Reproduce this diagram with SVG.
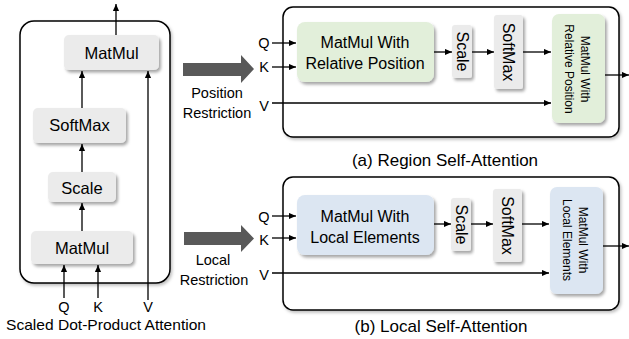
<svg xmlns="http://www.w3.org/2000/svg" width="629" height="339" viewBox="0 0 629 339">
<defs>
<filter id="sh" x="-20%" y="-20%" width="140%" height="140%">
<feDropShadow dx="2" dy="2.5" stdDeviation="1.6" flood-color="#000" flood-opacity="0.35"/>
</filter>
<filter id="psh" x="-5%" y="-5%" width="110%" height="115%">
<feDropShadow dx="1.5" dy="2" stdDeviation="1.5" flood-color="#000" flood-opacity="0.25"/>
</filter>
<marker id="ah" viewBox="0 0 8 8" refX="8" refY="4" markerWidth="7" markerHeight="7" markerUnits="userSpaceOnUse" orient="auto">
<path d="M0,0.5 L8,4 L0,7.5 Z" fill="#000"/>
</marker>
<style>
text{font-family:"Liberation Sans",Arial,sans-serif;fill:#000}
.panel{fill:#fff;stroke:#000;stroke-width:1.5;filter:url(#psh)}
.gray{fill:#ebebeb;filter:url(#sh)}
.green{fill:#e2efda;filter:url(#sh)}
.blue{fill:#dce6f2;filter:url(#sh)}
.lbl{font-size:16.5px;text-anchor:middle}
.mid{font-size:16px;text-anchor:middle}
.vs{font-size:16px;text-anchor:middle}
.vm{font-size:12px;text-anchor:middle}
.io{font-size:14.5px;text-anchor:middle}
.cap{font-size:17px;text-anchor:middle}
.ln{stroke:#000;stroke-width:1.3;fill:none;marker-end:url(#ah)}
.big{fill:#595959}
</style>
</defs>

<!-- panels -->
<rect id="panel-sdpa" class="panel" x="20" y="21" width="150" height="262" rx="14"/>
<rect id="panel-region" class="panel" x="283" y="7" width="336" height="130" rx="10"/>
<rect id="panel-local" class="panel" x="283" y="177" width="336" height="133" rx="10"/>

<!-- left nodes -->
<g id="sdpa-matmul-top"><rect class="gray" x="64" y="35" width="95" height="35" rx="5"/><text class="lbl" x="111.5" y="58.5">MatMul</text></g>
<g id="sdpa-softmax"><rect class="gray" x="33" y="108" width="93" height="35" rx="5"/><text class="lbl" x="79.5" y="131">SoftMax</text></g>
<g id="sdpa-scale"><rect class="gray" x="48" y="172" width="68" height="30" rx="5"/><text class="lbl" x="82" y="193.5">Scale</text></g>
<g id="sdpa-matmul-bottom"><rect class="gray" x="31" y="231" width="102" height="33" rx="5"/><text class="lbl" x="82" y="253.5">MatMul</text></g>

<!-- region nodes -->
<g id="region-matmul"><rect class="green" x="297" y="22" width="137" height="60" rx="8"/><text class="mid" x="365" y="48">MatMul With</text><text class="mid" x="365" y="69">Relative Position</text></g>
<g id="region-scale"><rect class="gray" x="452" y="25" width="20" height="53" rx="3"/><text class="vs" transform="translate(462,51.5) rotate(90)" x="0" y="5.5">Scale</text></g>
<g id="region-softmax"><rect class="gray" x="494" y="15" width="29" height="74" rx="3"/><text class="vs" transform="translate(508.5,52) rotate(90)" x="0" y="5.5">SoftMax</text></g>
<g id="region-matmul2"><rect class="green" x="552" y="14" width="53" height="109" rx="7"/><g transform="translate(578,69) rotate(90)"><text class="vm" x="0" y="-3">MatMul With</text><text class="vm" x="0" y="13.5">Relative Position</text></g></g>

<!-- local nodes -->
<g id="local-matmul"><rect class="blue" x="297" y="195" width="137" height="60" rx="8"/><text class="mid" x="365" y="222">MatMul With</text><text class="mid" x="365" y="243">Local Elements</text></g>
<g id="local-scale"><rect class="gray" x="451" y="198" width="20" height="53" rx="3"/><text class="vs" transform="translate(461,224.5) rotate(90)" x="0" y="5.5">Scale</text></g>
<g id="local-softmax"><rect class="gray" x="493" y="189" width="29" height="73" rx="3"/><text class="vs" transform="translate(507.5,225.5) rotate(90)" x="0" y="5.5">SoftMax</text></g>
<g id="local-matmul2"><rect class="blue" x="550" y="187" width="53" height="107" rx="7"/><g transform="translate(576,240) rotate(90)"><text class="vm" x="0" y="-3">MatMul With</text><text class="vm" x="0" y="13">Local Elements</text></g></g>

<!-- big arrows -->
<g id="arrow-position">
<polygon class="big" points="183,63 241,63 241,55 254,69 241,83 241,76 183,76"/>
<text class="io" x="217" y="98">Position</text>
<text class="io" x="217" y="118">Restriction</text>
</g>
<g id="arrow-local">
<polygon class="big" points="184,232 241,232 241,225 254,238.5 241,252 241,245 184,245"/>
<text class="io" x="213" y="265">Local</text>
<text class="io" x="214" y="285">Restriction</text>
</g>

<!-- labels -->
<g id="labels">
<text class="io" x="64" y="312">Q</text>
<text class="io" x="98" y="312">K</text>
<text class="io" x="148" y="312">V</text>
<text class="io" x="264" y="48">Q</text>
<text class="io" x="264" y="72">K</text>
<text class="io" x="264" y="111">V</text>
<text class="io" x="264" y="222">Q</text>
<text class="io" x="264" y="245">K</text>
<text class="io" x="264" y="280">V</text>
<text class="cap" x="106" y="330" style="font-size:15px" textLength="200" lengthAdjust="spacingAndGlyphs">Scaled Dot-Product Attention</text>
<text class="cap" x="445" y="166">(a) Region Self-Attention</text>
<text class="cap" x="441" y="332">(b) Local Self-Attention</text>
</g>

<!-- connectors -->
<g id="connectors">
<line class="ln" x1="116" y1="35" x2="116" y2="4"/>
<line class="ln" x1="82" y1="108" x2="82" y2="71"/>
<line class="ln" x1="82" y1="172" x2="82" y2="144"/>
<line class="ln" x1="82" y1="231" x2="82" y2="203"/>
<line class="ln" x1="64" y1="298" x2="64" y2="265"/>
<line class="ln" x1="98" y1="298" x2="98" y2="265"/>
<line class="ln" x1="148" y1="300" x2="148" y2="71"/>

<line class="ln" x1="272" y1="43" x2="296" y2="43"/>
<line class="ln" x1="272" y1="67" x2="296" y2="67"/>
<line class="ln" x1="272" y1="103" x2="551" y2="103"/>
<line class="ln" x1="434" y1="52" x2="452" y2="52"/>
<line class="ln" x1="472" y1="52" x2="494" y2="52"/>
<line class="ln" x1="523" y1="52" x2="551" y2="52"/>
<line class="ln" x1="605" y1="75" x2="629" y2="75"/>

<line class="ln" x1="272" y1="216" x2="296" y2="216"/>
<line class="ln" x1="272" y1="238" x2="296" y2="238"/>
<line class="ln" x1="272" y1="273" x2="549" y2="273"/>
<line class="ln" x1="434" y1="224" x2="451" y2="224"/>
<line class="ln" x1="471" y1="224" x2="493" y2="224"/>
<line class="ln" x1="522" y1="224" x2="549" y2="224"/>
<line class="ln" x1="603" y1="246" x2="629" y2="246"/>
</g>
</svg>
